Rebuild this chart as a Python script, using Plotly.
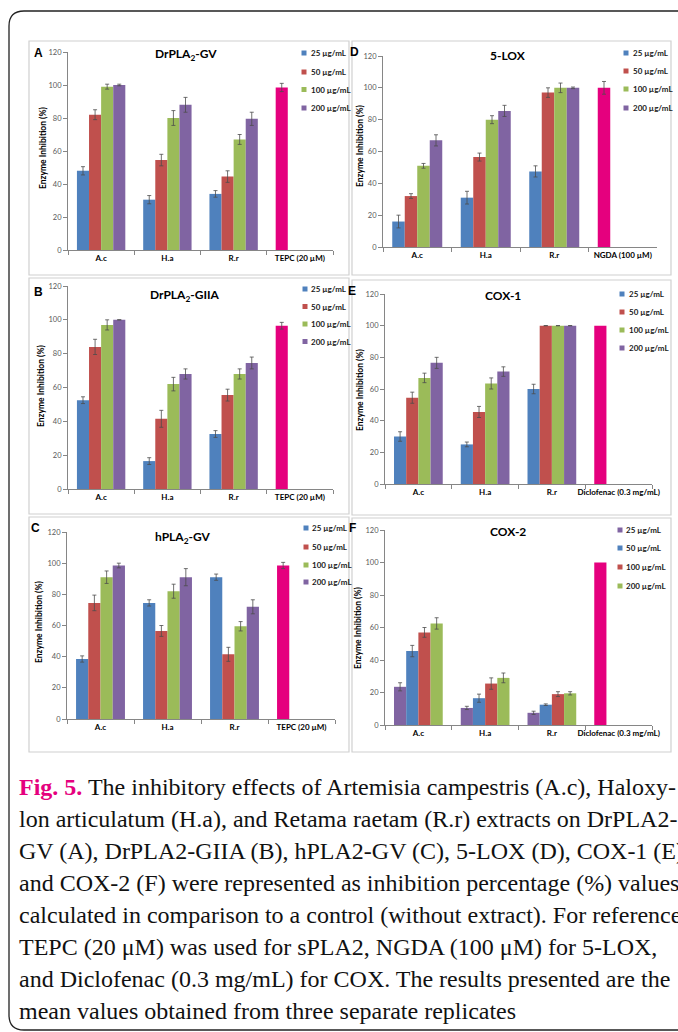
import plotly.graph_objects as go

W, H = 678, 1032


def fx(x):
    return x / W


def fy(y):
    return 1 - y / H


# ---------------- DATA ----------------
categories = ["A.c", "H.a", "R.r"]
conc_labels = ["25 µg/mL", "50 µg/mL", "100 µg/mL", "200 µg/mL"]

# Panel A: DrPLA2-GV (rows = 25, 50, 100, 200 µg/mL; columns = A.c, H.a, R.r)
A_values = [[48, 30.5, 34], [82, 54.5, 44.5], [99, 80, 67], [100, 88, 79.5]]
A_errors = [[2.5, 2.5, 2], [3, 3.5, 3.5], [1.5, 4.5, 3], [0.5, 4.5, 4]]
A_control = ["TEPC (20 µM)", 98.5, 2.5]

# Panel B: DrPLA2-GIIA
B_values = [[52.5, 16.5, 32.5], [84, 41.5, 55.5], [97, 62, 68], [100, 68, 74.5]]
B_errors = [[2, 2, 2], [4.5, 5, 3.5], [3, 4, 3], [0, 3, 3.5]]
B_control = ["TEPC (20 µM)", 96.5, 2]

# Panel C: hPLA2-GV
C_values = [[38.5, 74.5, 91], [74.5, 56.5, 41.5], [91, 82, 59.5], [98.5, 91, 72]]
C_errors = [[2, 2, 2], [5, 3.5, 4.5], [4, 4.5, 3], [1.5, 5.5, 4.5]]
C_control = ["TEPC (20 µM)", 98.5, 2]

# Panel D: 5-LOX
D_values = [[16, 31, 47.5], [32, 56.5, 97], [51, 80, 100], [67, 85.5, 100]]
D_errors = [[4, 4, 3.5], [1.5, 2.5, 3], [1.5, 2.5, 3], [3.5, 3.5, 0.5]]
D_control = ["NGDA (100 µM)", 100, 4]

# Panel E: COX-1
E_values = [[30, 25, 60], [54.5, 45.5, 100], [67, 63.5, 100], [76.5, 71, 100]]
E_errors = [[3, 1.5, 3], [3.5, 3.5, 0], [3, 3.5, 0], [3.5, 3, 0]]
E_control = ["Diclofenac (0.3 mg/mL)", 100, 0]

# Panel F: COX-2
F_values = [[23.5, 10.5, 7.5], [45.5, 16.5, 12.5], [57, 25.5, 19], [62.5, 29, 19.5]]
F_errors = [[2.5, 1, 1], [3.5, 2.5, 0.5], [3, 3.5, 1.5], [3.5, 3, 1]]
F_control = ["Diclofenac (0.3 mg/mL)", 100, 0]

titles = ["DrPLA<sub>2</sub>-GV", "DrPLA<sub>2</sub>-GIIA", "hPLA<sub>2</sub>-GV",
          "5-LOX", "COX-1", "COX-2"]
letters = ["A", "B", "C", "D", "E", "F"]
y_title = "Enzyme Inhibition (%)"

caption_lines = [
    "The inhibitory effects of Artemisia campestris (A.c), Haloxy-",
    "lon articulatum (H.a), and Retama raetam (R.r) extracts on DrPLA2-",
    "GV (A), DrPLA2-GIIA (B), hPLA2-GV (C), 5-LOX (D), COX-1 (E),",
    "and COX-2 (F) were represented as inhibition percentage (%) values,",
    "calculated in comparison to a control (without extract). For reference,",
    "TEPC (20 μM) was used for sPLA2, NGDA (100 μM) for 5-LOX,",
    "and Diclofenac (0.3 mg/mL) for COX. The results presented are the",
    "mean values obtained from three separate replicates",
]

# ---------------- STYLE ----------------
BLUE, RED, GREEN, PURPLE, MAG = "#4F81BD", "#C0504D", "#9BBB59", "#8064A2", "#E5007E"
std_colors = [BLUE, RED, GREEN, PURPLE]
cox2_colors = [PURPLE, BLUE, RED, GREEN]
FONT = "Lato"

panels = [
    dict(vals=A_values, errs=A_errors, ctrl=A_control, colors=std_colors,
         box=(29, 41, 349, 275), yx=68, xend=333, y120=52, y0=250,
         title=(186, 55), letter=(38, 53), ytitle=(43, 148),
         leg_sq=304, leg_tx=309, leg_y=[53, 72, 89.5, 108]),
    dict(vals=B_values, errs=B_errors, ctrl=B_control, colors=std_colors,
         box=(29, 278, 349, 514), yx=68, xend=333, y120=286, y0=489,
         title=(185, 295), letter=(38, 292), ytitle=(41, 386),
         leg_sq=305, leg_tx=309, leg_y=[289, 306.5, 324, 341.5]),
    dict(vals=C_values, errs=C_errors, ctrl=C_control, colors=std_colors,
         box=(29, 517, 349, 752), yx=67, xend=335, y120=532, y0=719,
         title=(183, 537), letter=(35, 528), ytitle=(39, 622),
         leg_sq=306, leg_tx=310, leg_y=[528, 547, 565, 582]),
    dict(vals=D_values, errs=D_errors, ctrl=D_control, colors=std_colors,
         box=(352, 41, 671, 275), yx=383, xend=657, y120=56, y0=247,
         title=(508, 56), letter=(354, 52), ytitle=(360, 146),
         leg_sq=626, leg_tx=631, leg_y=[53, 71, 89, 108]),
    dict(vals=E_values, errs=E_errors, ctrl=E_control, colors=std_colors,
         box=(352, 280, 671, 515), yx=385, xend=652, y120=294, y0=484,
         title=(503, 295), letter=(352, 291), ytitle=(360, 390),
         leg_sq=622, leg_tx=627, leg_y=[294, 312, 330, 348]),
    dict(vals=F_values, errs=F_errors, ctrl=F_control, colors=cox2_colors,
         box=(352, 518, 671, 752), yx=385, xend=652, y120=530, y0=725,
         title=(508, 531), letter=(352, 528), ytitle=(358, 628),
         leg_sq=620, leg_tx=624, leg_y=[530, 548, 567, 586]),
]

fig = go.Figure()
shapes = []
annotations = []

err_style = dict(type="data", color="#4d4d4d", thickness=0.8, width=2)

for i, p in enumerate(panels):
    n = "" if i == 0 else str(i + 1)
    xa, ya = "x" + n, "y" + n
    ctrl_label, ctrl_val, ctrl_err = p["ctrl"]
    for s in range(4):
        fig.add_trace(go.Bar(
            x=categories, y=p["vals"][s],
            error_y=dict(array=p["errs"][s], **err_style),
            marker=dict(color=p["colors"][s], line=dict(width=0)),
            offsetgroup=str(s), xaxis=xa, yaxis=ya, showlegend=False,
            name=conc_labels[s]))
    fig.add_trace(go.Bar(
        x=[ctrl_label], y=[ctrl_val],
        error_y=dict(array=[ctrl_err], visible=ctrl_err > 0, **err_style),
        marker=dict(color=MAG, line=dict(width=0)),
        offsetgroup="0", xaxis=xa, yaxis=ya, showlegend=False, name=ctrl_label))

    fig.layout["xaxis" + n] = dict(
        domain=[fx(p["yx"]), fx(p["xend"])], anchor=ya, type="category",
        categoryorder="array", categoryarray=categories + [ctrl_label],
        range=[-0.5, 3.5], showline=True, linecolor="#868686", linewidth=1,
        ticks="outside", tickson="boundaries", ticklen=4, tickcolor="#868686",
        tickangle=0, automargin=False,
        tickfont=dict(family=FONT, size=8, color="#000000", weight="bold"),
        showgrid=False, zeroline=False)
    fig.layout["yaxis" + n] = dict(
        domain=[fy(p["y0"]), fy(p["y120"])], anchor=xa, range=[0, 120],
        dtick=20, tick0=0, showline=True, linecolor="#868686", linewidth=1,
        ticks="outside", ticklen=4, tickcolor="#868686", automargin=False,
        tickfont=dict(family=FONT, size=7.5, color="#595959"),
        showgrid=False, zeroline=False)

    x0, y0, x1, y1 = p["box"]
    shapes.append(dict(type="rect", xref="paper", yref="paper",
                       x0=fx(x0), x1=fx(x1), y0=fy(y1), y1=fy(y0),
                       line=dict(color="#D0D0D0", width=1.2), fillcolor="rgba(0,0,0,0)",
                       layer="below"))
    annotations.append(dict(xref="paper", yref="paper", x=fx(p["title"][0]), y=fy(p["title"][1]),
                            text="<b>" + titles[i] + "</b>", showarrow=False,
                            xanchor="center", yanchor="middle",
                            font=dict(family=FONT, size=12, color="#000000")))
    annotations.append(dict(xref="paper", yref="paper", x=fx(p["letter"][0]), y=fy(p["letter"][1]),
                            text="<b>" + letters[i] + "</b>", showarrow=False,
                            xanchor="center", yanchor="middle",
                            font=dict(family="Liberation Sans", size=12, color="#000000")))
    annotations.append(dict(xref="paper", yref="paper", x=fx(p["ytitle"][0]), y=fy(p["ytitle"][1]),
                            text="<b>" + y_title + "</b>", showarrow=False, textangle=-90,
                            xanchor="center", yanchor="middle",
                            font=dict(family=FONT, size=8.5, color="#000000")))
    for s in range(4):
        ly = p["leg_y"][s]
        shapes.append(dict(type="rect", xref="paper", yref="paper",
                           x0=fx(p["leg_sq"] - 2.5), x1=fx(p["leg_sq"] + 2.5),
                           y0=fy(ly + 2.5), y1=fy(ly - 2.5),
                           line=dict(width=0), fillcolor=p["colors"][s]))
        annotations.append(dict(xref="paper", yref="paper", x=fx(p["leg_tx"]), y=fy(ly),
                                text="<b>" + conc_labels[s] + "</b>", showarrow=False,
                                xanchor="left", yanchor="middle",
                                font=dict(family=FONT, size=8, color="#1a1a1a")))

# outer rounded frame
r = 15
L, T, B, R = 9, 11, 1030, 720
path = (f"M {fx(R)},{fy(T)} L {fx(L + r)},{fy(T)} Q {fx(L)},{fy(T)} {fx(L)},{fy(T + r)} "
        f"L {fx(L)},{fy(B - r)} Q {fx(L)},{fy(B)} {fx(L + r)},{fy(B)} L {fx(R)},{fy(B)}")
shapes.append(dict(type="path", xref="paper", yref="paper", path=path,
                   line=dict(color="#222222", width=1.3)))

# caption
cap_y0, cap_dy = 787, 32
for k, line in enumerate(caption_lines):
    txt = line
    if k == 0:
        txt = "<span style='color:#E5007E'><b>Fig. 5.</b></span> " + line
    annotations.append(dict(xref="paper", yref="paper", x=fx(17), y=fy(cap_y0 + k * cap_dy),
                            text=txt, showarrow=False, xanchor="left", yanchor="middle",
                            font=dict(family="Liberation Serif", size=24, color="#111111")))

fig.update_layout(
    width=W, height=H, margin=dict(l=0, r=0, t=0, b=0),
    paper_bgcolor="white", plot_bgcolor="white",
    barmode="group", bargap=0.27, bargroupgap=0,
    shapes=shapes, annotations=annotations, showlegend=False,
)

fig.write_html("out.html")
